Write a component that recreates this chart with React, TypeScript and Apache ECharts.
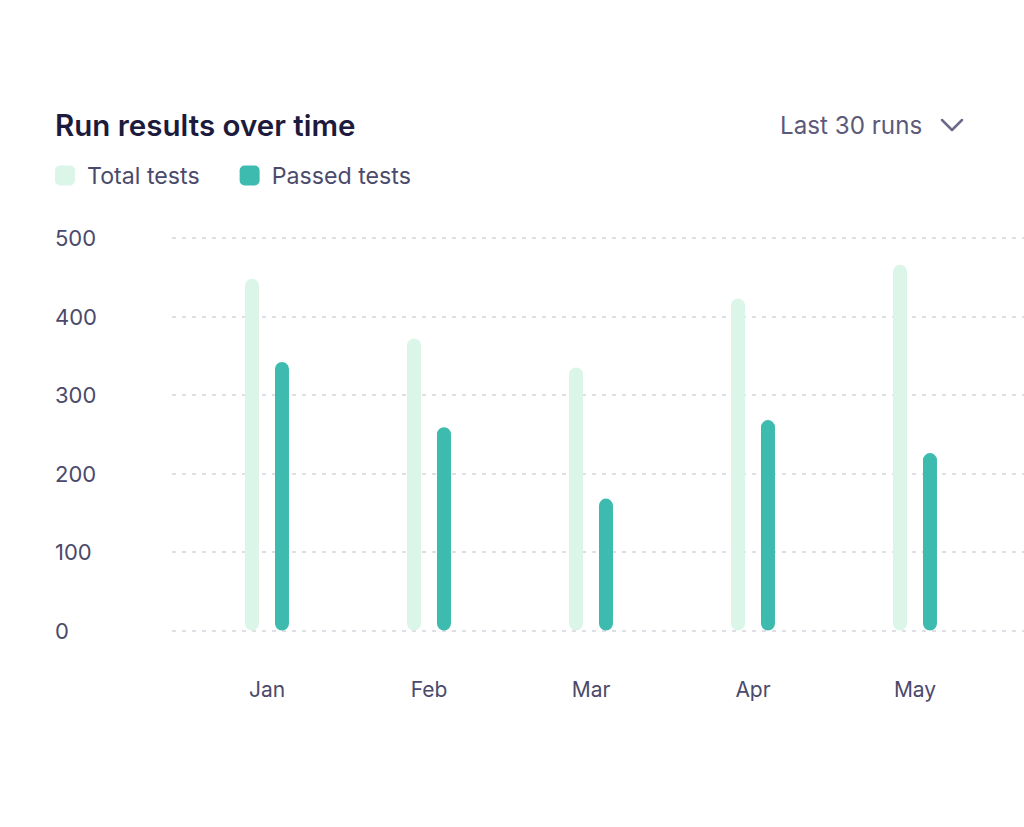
import React, { useEffect, useRef } from "react";
import * as echarts from "echarts";

const months = ["Jan", "Feb", "Mar", "Apr", "May"];
const totalTests = [448, 372, 335, 423, 466];
const passedTests = [342, 259, 168, 268, 226];
const yTicks = [0, 100, 200, 300, 400, 500];

const FONT = "Inter, 'Noto Sans', sans-serif";
const LABEL = "#4b4a6b";

export default function App() {
  const ref = useRef<HTMLDivElement>(null);
  useEffect(() => {
    if (!ref.current) return;
    const chart = echarts.init(ref.current, null, { renderer: "svg" });
    const yMin = yTicks[0];
    const yMax = yTicks[yTicks.length - 1];
    const step = yTicks[1] - yTicks[0];
    chart.setOption({
      animation: false,
      backgroundColor: "#ffffff",
      textStyle: { fontFamily: FONT },
      title: {
        text: "Run results over time",
        left: 55,
        top: 110,
        padding: 0,
        textStyle: { fontFamily: FONT, fontSize: 29.5, fontWeight: 600, color: "#1d1b3d" },
      },
      legend: {
        left: 55,
        top: 164,
        padding: 0,
        itemWidth: 20,
        itemHeight: 20,
        itemGap: 40,
        icon: "roundRect",
        textStyle: { fontFamily: FONT, fontSize: 23.2, color: LABEL, padding: [0, 0, 0, 7] },
        data: ["Total tests", "Passed tests"],
      },
      graphic: [
        {
          type: "text",
          left: 780,
          top: 113,
          style: { text: "Last 30 runs", fontFamily: FONT, fontSize: 24.2, fill: "#5b5a7a" },
        },
        {
          type: "polyline",
          shape: { points: [[942, 120], [952, 130], [962, 120]] },
          style: { stroke: "#6b6a88", lineWidth: 2.5, fill: "none", lineCap: "round", lineJoin: "round" },
        },
      ],
      grid: [
        { left: 186, right: 28, top: 238, bottom: 196.5 },
        { left: 172, right: 0, top: 238, bottom: 196.5 },
      ],
      xAxis: [
        {
          type: "category",
          gridIndex: 0,
          data: months,
          axisLine: { show: false },
          axisTick: { show: false },
          axisLabel: { margin: 48, fontSize: 21, color: LABEL, fontFamily: FONT },
        },
        {
          type: "category",
          gridIndex: 1,
          data: months,
          show: false,
        },
      ],
      yAxis: [
        {
          type: "value",
          gridIndex: 0,
          min: yMin,
          max: yMax,
          interval: step,
          show: false,
          splitLine: { show: false },
        },
        {
          type: "value",
          gridIndex: 1,
          min: yMin,
          max: yMax,
          interval: step,
          axisLine: { show: false },
          axisTick: { show: false },
          axisLabel: {
            margin: 117,
            align: "left",
            fontSize: 22,
            color: LABEL,
            fontFamily: FONT,
          },
          splitLine: {
            show: true,
            lineStyle: { color: "#d3d3dd", type: [4, 6], width: 1.5 },
          },
        },
      ],
      series: [
        {
          name: "Total tests",
          type: "bar",
          xAxisIndex: 0,
          yAxisIndex: 0,
          data: totalTests,
          barWidth: 14,
          barGap: "114%",
          itemStyle: { color: "#dbf6e9", borderRadius: 7 },
          z: 3,
        },
        {
          name: "Passed tests",
          type: "bar",
          xAxisIndex: 0,
          yAxisIndex: 0,
          data: passedTests,
          barWidth: 14,
          itemStyle: { color: "#3dbbaf", borderRadius: 7 },
          z: 3,
        },
      ],
    });
    return () => chart.dispose();
  }, []);
  return (
    <div
      ref={ref}
      style={{ position: "fixed", left: 0, top: 0, width: 1024, height: 827 }}
    />
  );
}
